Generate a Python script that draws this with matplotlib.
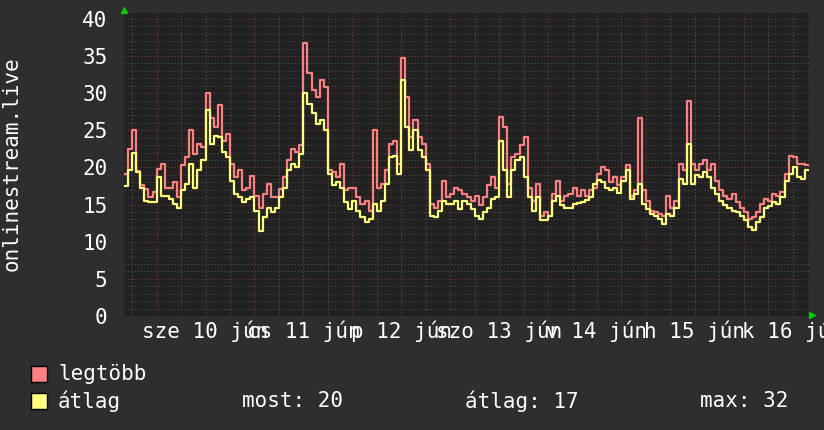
import matplotlib
matplotlib.use("Agg")
import matplotlib.pyplot as plt
from matplotlib.patches import Rectangle
from matplotlib.transforms import blended_transform_factory
import numpy as np

# orai ertekek, jun 9 16:00-tol 168 orán at
legtobb = [19.1, 22.5, 25.0, 19.5, 17.6, 17.1, 16.0, 16.7, 19.8, 20.5,
           17.3, 17.3, 18.0, 16.0, 20.3, 21.4, 25.0, 21.8, 23.2, 22.7,
           30.0, 26.6, 25.5, 28.4, 23.6, 24.5, 20.5, 18.7, 19.6, 16.9,
           17.3, 18.9, 16.2, 14.6, 16.4, 17.8, 16.0, 16.0, 17.1, 18.7,
           21.0, 22.5, 22.1, 23.0, 36.7, 32.7, 30.4, 29.5, 31.8, 30.9,
           19.6, 19.4, 18.7, 20.5, 16.9, 17.3, 17.3, 16.0, 15.1, 15.5,
           14.2, 25.0, 17.3, 17.8, 19.6, 23.2, 23.6, 20.5, 34.7, 29.5,
           24.1, 26.4, 24.1, 23.2, 20.5, 15.1, 14.6, 15.5, 18.2, 16.0,
           16.4, 17.3, 16.9, 16.4,
           16.0, 15.5, 16.2, 14.9, 16.0, 17.6, 18.7, 17.3, 26.8, 25.5,
           17.8, 21.4, 21.8, 23.0, 24.1, 17.3, 15.5, 17.8, 13.5, 14.0,
           13.5, 16.4, 18.2, 15.5, 16.2, 16.4, 17.3, 16.2, 16.9, 16.2,
           16.9, 17.3, 19.1, 20.0, 19.6, 18.0, 18.7, 17.6, 18.7, 20.3,
           16.2, 16.9, 26.6, 16.9, 15.5, 14.2, 14.0, 13.7, 13.5, 16.2,
           14.6, 15.5, 20.5, 19.6, 29.0, 20.5, 19.6, 20.5, 21.0, 19.6,
           20.5, 18.2, 16.9, 16.2, 15.8, 16.4, 15.3, 14.6, 14.0, 13.1,
           13.3, 14.0, 15.1, 15.8, 15.5, 16.4, 16.2, 16.7, 19.1, 21.6,
           21.4, 20.5, 20.5, 20.3]

atlag = [17.5, 19.6, 22.0, 19.4, 17.3, 15.5, 15.3, 15.3, 18.7, 16.2,
         16.2, 15.8, 15.1, 14.6, 16.9, 17.8, 20.5, 17.3, 19.6, 21.0,
         27.7, 23.2, 24.3, 24.1, 22.1, 21.4, 18.2, 16.4, 16.0, 15.3,
         15.8, 16.0, 14.2, 11.5, 13.3, 14.6, 14.0, 14.6, 16.0, 17.3,
         19.6, 20.5, 20.0, 21.8, 30.0, 28.6, 27.3, 25.9, 26.4, 25.0,
         19.1, 17.6, 18.0, 17.3, 15.3, 14.4, 15.5, 14.2, 13.3, 12.6,
         13.0, 15.1, 14.2, 15.5, 17.8, 21.4, 21.6, 19.1, 31.8, 25.5,
         22.3, 25.0, 22.3, 21.4, 19.6, 13.5, 13.3, 14.2, 15.5, 15.1,
         15.1, 15.5, 14.4, 15.5,
         15.1, 14.4, 13.5, 13.1, 14.0, 14.6, 15.8, 16.0, 23.6, 19.6,
         16.0, 19.6, 21.0, 21.4, 18.7, 16.0, 14.2, 16.0, 12.9, 12.9,
         13.5, 15.5, 16.2, 14.9, 14.6, 14.6, 15.1, 15.2, 15.3, 15.6,
         16.0, 17.8, 18.3, 18.0, 17.3, 17.0, 17.3, 16.6, 18.2, 19.6,
         15.8, 16.4, 17.8, 15.1, 14.4, 13.8, 13.5, 13.1, 12.4, 13.7,
         13.5, 14.6, 18.4, 17.8, 23.2, 17.8, 19.0, 18.7, 19.4, 18.7,
         17.3, 16.4, 15.5, 14.9, 14.6, 14.2, 14.0, 13.5, 12.9, 12.0,
         11.6, 12.6, 13.3, 14.6, 14.8, 15.3, 15.1, 16.0, 18.2, 19.1,
         20.0, 18.7, 18.4, 19.6]

nap_cimkek = ["sze 10 jún", "cs 11 jún", "p 12 jún", "szo 13 jún",
              "v 14 jún", "h 15 jún", "k 16 jún"]
y_ticks = [0, 5, 10, 15, 20, 25, 30, 35, 40]

BG = "#2e2e2e"
PLOT_BG = "#212121"
FONT = "DejaVu Sans Mono"
FS = 15

fig = plt.figure(figsize=(8.24, 4.30), dpi=100, facecolor=BG)
W, H = 824, 430
ax = fig.add_axes([124 / W, 1 - 316 / H, 685 / W, 303 / H])
ax.set_facecolor(PLOT_BG)

hours = np.arange(len(legtobb) + 1)
ax.step(hours, legtobb + [legtobb[-1]], where="post", color="#ff8080", lw=1.6, zorder=3)
ax.step(hours, atlag + [atlag[-1]], where="post", color="#ffff80", lw=1.6, zorder=4)

ax.set_xlim(0, 168)
ax.set_ylim(0, 40.8)

# racs: 6 orankent halvany, ejfelkor piros
for h in range(2, 168, 6):
    major = (h - 8) % 24 == 0
    ax.axvline(h, color="#7a3535" if major else "#505050", lw=0.8,
               ls=(0, (1, 2)), zorder=1)
for v in range(0, 41):
    major = v % 5 == 0
    ax.axhline(v, color="#7a3535" if major else "#505050", lw=0.8,
               ls=(0, (1, 2)), zorder=1)

for s in ax.spines.values():
    s.set_visible(False)

ax.set_xticks([])
ax.set_yticks(y_ticks)
ax.set_yticklabels([str(t) for t in y_ticks], family=FONT, fontsize=FS, color="white")
ax.tick_params(axis="y", length=0, pad=12)

trans = blended_transform_factory(ax.transData, ax.transAxes)
for i, lab in enumerate(nap_cimkek):
    ax.text(20 + 24 * i, -15 / 303, lab, transform=trans, ha="center", va="center",
            family=FONT, fontsize=FS, color="white", clip_on=False)

# zold nyilak
fig.add_artist(plt.Line2D([124 / W], [1 - 10 / H], marker="^", color="#00cc00",
                          markersize=4, transform=fig.transFigure))
fig.add_artist(plt.Line2D([812 / W], [1 - 315 / H], marker=">", color="#00cc00",
                          markersize=4, transform=fig.transFigure))

fig.text(12 / W, 1 - 164 / H, "onlinestream.live", rotation=90, ha="center", va="center",
         family=FONT, fontsize=FS, color="white")

# jelmagyarazat
for yc, col, txt in [(373.5, "#ff8080", "legtöbb"), (401, "#ffff80", "átlag")]:
    fig.add_artist(Rectangle((31 / W, 1 - (yc + 8) / H), 16 / W, 16 / H, facecolor=col,
                             edgecolor="black", lw=1, transform=fig.transFigure))
    fig.text(58 / W, 1 - yc / H, txt, ha="left", va="center", family=FONT,
             fontsize=FS, color="white")

fig.text(242 / W, 1 - 401 / H, "most: 20", ha="left", va="center", family=FONT, fontsize=FS, color="white")
fig.text(465 / W, 1 - 401 / H, "átlag: 17", ha="left", va="center", family=FONT, fontsize=FS, color="white")
fig.text(700 / W, 1 - 401 / H, "max: 32", ha="left", va="center", family=FONT, fontsize=FS, color="white")

fig.savefig("out.png", dpi=100, facecolor=BG)
